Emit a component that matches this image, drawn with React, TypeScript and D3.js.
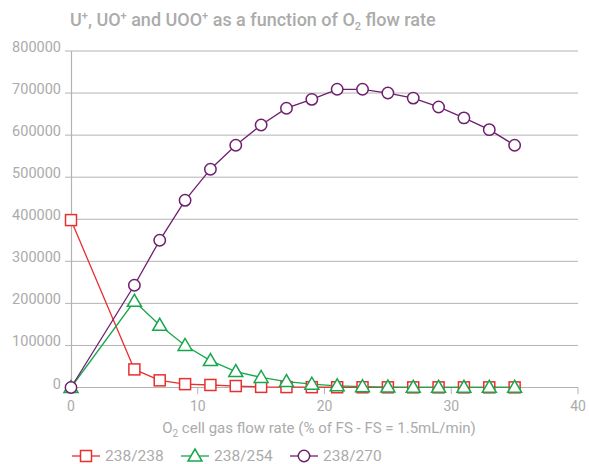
import React from "react";
import * as d3 from "d3";

const flowRates = [0, 5, 7, 9, 11, 13, 15, 17, 19, 21, 23, 25, 27, 29, 31, 33, 35];
const u238_238 = [398000, 43000, 17000, 8000, 6000, 3500, 1500, 1000, 800, 600, 500, 400, 300, 300, 300, 300, 300];
const u238_254 = [0, 205000, 148000, 100000, 64000, 38000, 24000, 14000, 8000, 4000, 2000, 1000, 500, 500, 500, 500, 500];
const u238_270 = [0, 243000, 350000, 445000, 519000, 576000, 624000, 664000, 685000, 709000, 709000, 700000, 688000, 667000, 641000, 613000, 576000];
const xTicks = [0, 10, 20, 30, 40];
const yTicks = [0, 100000, 200000, 300000, 400000, 500000, 600000, 700000, 800000];

const seriesNames = ["238/238", "238/254", "238/270"];
const seriesColors = ["#e8302e", "#17a84d", "#6e1f6e"];
const seriesShapes = ["square", "triangle", "circle"];

const W = 589;
const H = 464;
const FONT = "Roboto, 'Noto Sans', sans-serif";
const GRAY = "#b3b3b3";
const TEXT = "#ababab";

function Marker({ shape, x, y, color }: { shape: string; x: number; y: number; color: string }) {
  if (shape === "square") {
    return <rect x={x - 5.5} y={y - 5.5} width={11} height={11} fill="white" stroke={color} strokeWidth={1.5} />;
  }
  if (shape === "triangle") {
    const p = `${x},${y - 7} ${x - 7},${y + 5} ${x + 7},${y + 5}`;
    return <polygon points={p} fill="white" stroke={color} strokeWidth={1.5} />;
  }
  return <circle cx={x} cy={y} r={5.7} fill="white" stroke={color} strokeWidth={1.5} />;
}

export default function App() {
  const x = d3.scaleLinear().domain([0, 40]).range([71, 578]);
  const y = d3.scaleLinear().domain([0, 800000]).range([387.5, 51]);
  const allSeries = [u238_238, u238_254, u238_270];
  const line = d3
    .line<number>()
    .x((_, i) => x(flowRates[i]))
    .y((d) => y(d));

  const legendX = [72, 181, 290];

  return (
    <svg width={W} height={H} style={{ position: "absolute", left: 0, top: 0 }} fontFamily={FONT}>
      <rect width={W} height={H} fill="white" />
      <text x={70} y={26} fontSize={18} fontWeight={500} fill={TEXT}>
        U<tspan fontSize={11} dy={-7}>+</tspan>
        <tspan dy={7}>, UO</tspan>
        <tspan fontSize={11} dy={-7}>+</tspan>
        <tspan dy={7}> and UOO</tspan>
        <tspan fontSize={11} dy={-7}>+</tspan>
        <tspan dy={7}> as a function of O</tspan>
        <tspan fontSize={11} dy={4}>2</tspan>
        <tspan dy={-4}> flow rate</tspan>
      </text>

      {yTicks.map((t) => (
        <g key={t}>
          <line x1={65} x2={578} y1={y(t)} y2={y(t)} stroke={GRAY} strokeWidth={1} />
          <text x={61} y={y(t) + 1} fontSize={14.5} fill={TEXT} textAnchor="end">
            {t}
          </text>
        </g>
      ))}
      <line x1={71.5} x2={71.5} y1={51} y2={394} stroke={GRAY} strokeWidth={1.2} />
      {xTicks.map((t) => (
        <g key={t}>
          <line x1={x(t)} x2={x(t)} y1={387.5} y2={394} stroke={GRAY} strokeWidth={1} />
          <text x={x(t)} y={411} fontSize={14} fill={TEXT} textAnchor="middle">
            {t}
          </text>
        </g>
      ))}
      <text x={319} y={433} fontSize={15} fill={TEXT} textAnchor="middle">
        O<tspan fontSize={10} dy={4}>2</tspan>
        <tspan dy={-4}> cell gas flow rate (% of FS - FS = 1.5mL/min)</tspan>
      </text>

      {allSeries.map((s, si) => (
        <g key={si}>
          <path d={line(s) || ""} fill="none" stroke={seriesColors[si]} strokeWidth={1.3} />
        </g>
      ))}
      {allSeries.map((s, si) => (
        <g key={"m" + si}>
          {s.map((v, i) => (
            <Marker key={i} shape={seriesShapes[si]} x={x(flowRates[i])} y={y(v)} color={seriesColors[si]} />
          ))}
        </g>
      ))}

      {seriesNames.map((n, i) => (
        <g key={n}>
          <line x1={legendX[i]} x2={legendX[i] + 28} y1={456} y2={456} stroke={seriesColors[i]} strokeWidth={1.3} />
          <Marker shape={seriesShapes[i]} x={legendX[i] + 14} y={456} color={seriesColors[i]} />
          <text x={legendX[i] + 33} y={460.5} fontSize={15.5} fill={TEXT}>
            {n}
          </text>
        </g>
      ))}
    </svg>
  );
}
